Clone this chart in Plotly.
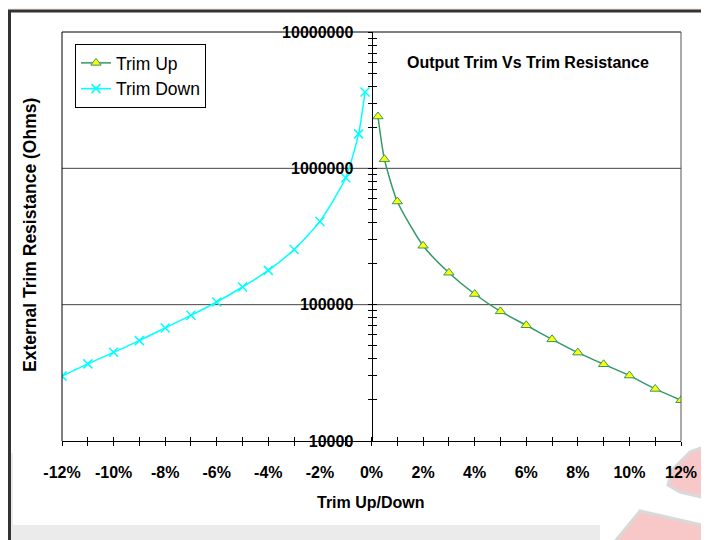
import plotly.graph_objects as go

# ---- data ----
trim_up_pct = [0.25, 0.5, 1, 2, 3, 4, 5, 6, 7, 8, 9, 10, 11, 12]
trim_up_ohms = [2400000, 1167000, 571000, 270500, 171500, 119700, 89300,
                70600, 55700, 44500, 36550, 30200, 24100, 19900]

trim_down_pct = [-12, -11, -10, -9, -8, -7, -6, -5, -4, -3, -2, -1, -0.5, -0.25]
trim_down_ohms = [29900, 36800, 44700, 54500, 67500, 83500, 104600, 134800,
                  178500, 254000, 408000, 852000, 1790000, 3630000]

x_tick_vals = [-12, -11, -10, -9, -8, -7, -6, -5, -4, -3, -2, -1, 0,
               1, 2, 3, 4, 5, 6, 7, 8, 9, 10, 11, 12]
x_tick_text = ["-12%", "", "-10%", "", "-8%", "", "-6%", "", "-4%", "", "-2%", "", "0%",
               "", "2%", "", "4%", "", "6%", "", "8%", "", "10%", "", "12%"]

y_major_vals = [10000, 100000, 1000000, 10000000]
y_major_text = ["10000", "100000", "1000000", "10000000"]
y_minor_mult = [2, 3, 4, 5, 6, 7, 8, 9]

y_tick_vals = []
y_tick_text = []
for v, t in zip(y_major_vals, y_major_text):
    y_tick_vals.append(v)
    y_tick_text.append(t)
    if v < 10000000:
        for m in y_minor_mult:
            y_tick_vals.append(v * m)
            y_tick_text.append("")

FONT = "Liberation Sans, Arial, sans-serif"
OFF = 8                      # default page margin of the html body
W, H = 709 - OFF, 540 - OFF
L, R, T, B = 62 - OFF, 28, 32 - OFF, 99
PW, PH = W - L - R, H - T - B


def px(xp):
    return (xp - OFF - L) / PW


def py(yp):
    return (H - B - (yp - OFF)) / PH


fig = go.Figure()

fig.add_trace(go.Scatter(
    x=trim_up_pct, y=trim_up_ohms, name="Trim Up", mode="lines+markers",
    line=dict(color="#339966", width=1.5, shape="spline", smoothing=0.6),
    marker=dict(symbol="triangle-up", size=9, color="#FFFF00",
                line=dict(color="#339966", width=1)),
))
fig.add_trace(go.Scatter(
    x=trim_down_pct, y=trim_down_ohms, name="Trim Down", mode="lines+markers",
    line=dict(color="#00FFFF", width=1.5, shape="spline", smoothing=0.6),
    marker=dict(symbol="x-thin", size=9, color="#00FFFF",
                line=dict(color="#00FFFF", width=1.5)),
))
# invisible trace to activate the overlay axes (crossing tick marks)
fig.add_trace(go.Scatter(
    x=[0], y=[100000], xaxis="x2", yaxis="y2", mode="markers",
    marker=dict(size=1, opacity=0), showlegend=False, hoverinfo="skip",
))

shapes = []
# decorative background
shapes.append(dict(type="rect", xref="paper", yref="paper",
                   x0=px(0), x1=px(720), y0=py(10), y1=py(0),
                   fillcolor="#fcf1e9", line=dict(width=0), layer="below"))
shapes.append(dict(type="rect", xref="paper", yref="paper",
                   x0=px(7), x1=px(600), y0=py(545), y1=py(525),
                   fillcolor="#ebebeb", line=dict(width=0), layer="below"))
shapes.append(dict(type="rect", xref="paper", yref="paper",
                   x0=px(7), x1=px(13), y0=py(545), y1=py(453),
                   fillcolor="#ebebeb", line=dict(width=0), layer="below"))


def path(points):
    s = "M " + " L ".join(f"{px(a):.5f},{py(b):.5f}" for a, b in points) + " Z"
    return s


shapes.append(dict(type="path", xref="paper", yref="paper",
                   path=path([(612, 545), (640, 511), (706, 526), (706, 545)]),
                   fillcolor="#f8c8c8", line=dict(color="#d9d9d9", width=3), layer="below"))
shapes.append(dict(type="path", xref="paper", yref="paper",
                   path=path([(706, 446), (690, 452), (672, 470), (668, 485),
                              (680, 492), (706, 498)]),
                   fillcolor="#f8c8c8", line=dict(color="#d9d9d9", width=3), layer="below"))
# outer border
shapes.append(dict(type="rect", xref="paper", yref="paper",
                   x0=px(9.5), x1=px(707), y0=py(560), y1=py(11),
                   line=dict(color="#333333", width=3), layer="below"))
# plot frame
shapes.append(dict(type="line", xref="paper", yref="paper", x0=0, x1=1, y0=1, y1=1,
                   line=dict(color="black", width=1)))
shapes.append(dict(type="line", xref="paper", yref="paper", x0=0, x1=0, y0=0, y1=1,
                   line=dict(color="black", width=1)))
shapes.append(dict(type="line", xref="paper", yref="paper", x0=1, x1=1, y0=0, y1=1,
                   line=dict(color="#555555", width=1)))
# horizontal gridlines at 1e5 and 1e6
for f in (1 / 3, 2 / 3):
    shapes.append(dict(type="line", xref="paper", yref="y domain", x0=0, x1=1, y0=f, y1=f,
                       line=dict(color="#444444", width=1), layer="below"))

bold = dict(family=FONT, color="black", weight="bold")

fig.update_layout(
    width=W, height=H,
    margin=dict(l=L, r=R, t=T, b=B),
    paper_bgcolor="white", plot_bgcolor="white",
    font=dict(family=FONT, color="black"),
    showlegend=True,
    legend=dict(x=px(75), y=py(44), xanchor="left", yanchor="top",
                bordercolor="black", borderwidth=1, bgcolor="white",
                font=dict(family=FONT, size=17.5, color="black"),
                tracegroupgap=0),
    xaxis=dict(range=[-12, 12], tickvals=x_tick_vals, ticktext=x_tick_text,
               ticks="outside", ticklen=4, tickcolor="black", tickwidth=1,
               showline=True, linecolor="black", linewidth=1,
               showgrid=False, zeroline=False, ticklabelstandoff=13,
               tickfont=dict(size=16, **bold), anchor="y"),
    xaxis2=dict(range=[-12, 12], overlaying="x", anchor="y", side="bottom",
                tickvals=x_tick_vals, ticks="inside", ticklen=4, tickcolor="black",
                showticklabels=False, showline=False, showgrid=False, zeroline=False),
    yaxis=dict(type="log", range=[4, 7], anchor="free", position=0.5,
               tickvals=y_tick_vals, ticktext=y_tick_text,
               ticks="outside", ticklen=4, tickcolor="black", tickwidth=1,
               showline=True, linecolor="black", linewidth=1,
               showgrid=False, zeroline=False, ticklabelstandoff=11,
               tickfont=dict(size=16, **bold)),
    yaxis2=dict(type="log", range=[4, 7], overlaying="y", anchor="free", position=0.5,
                tickvals=y_tick_vals, ticks="inside", ticklen=4, tickcolor="black",
                showticklabels=False, showline=False, showgrid=False, zeroline=False),
    shapes=shapes,
    annotations=[
        dict(text="Output Trim Vs Trim Resistance", xref="paper", yref="paper",
             x=px(528), y=py(63), showarrow=False, xanchor="center", yanchor="middle",
             font=dict(size=16, **bold)),
        dict(text="Trim Up/Down", xref="paper", yref="paper",
             x=px(371), y=py(503), showarrow=False, xanchor="center", yanchor="middle",
             font=dict(size=16, **bold)),
        dict(text="External Trim Resistance (Ohms)", xref="paper", yref="paper",
             x=px(30), y=py(235), showarrow=False, xanchor="center", yanchor="middle",
             textangle=-90, font=dict(size=17.5, **bold)),
    ],
)

fig.write_html("out.html")
